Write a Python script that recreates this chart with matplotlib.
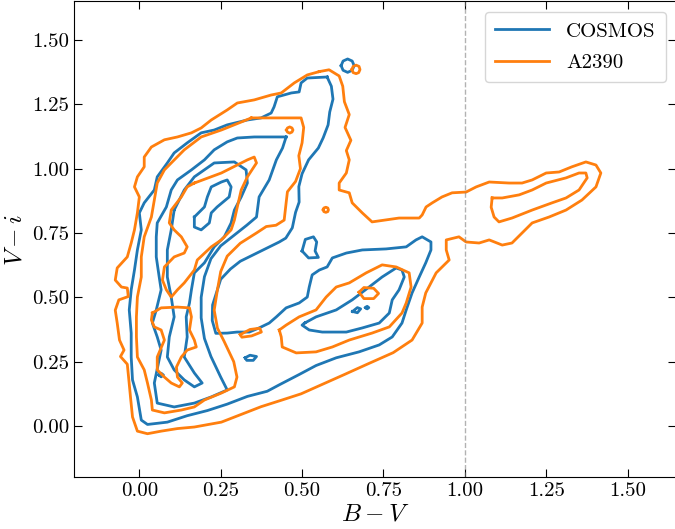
import numpy as np
import matplotlib
matplotlib.use("Agg")
import matplotlib.pyplot as plt
from matplotlib.ticker import FormatStrFormatter

plt.rcParams["font.family"] = "serif"
plt.rcParams["font.serif"] = ["cmr10", "DejaVu Serif"]
plt.rcParams["mathtext.fontset"] = "cm"
plt.rcParams["axes.formatter.use_mathtext"] = True

BLUE = "#1f77b4"
ORANGE = "#ff7f0e"

# contour lines, (B-V, V-i)
o_outer = [(0.553,1.377),(0.583,1.384),(0.614,1.36),(0.625,1.32),(0.63,1.26),(0.645,1.21),(0.632,1.16),
           (0.65,1.11),(0.636,1.07),(0.645,1.034),(0.636,0.983),(0.614,0.944),(0.614,0.917),(0.645,0.906),
           (0.654,0.867),(0.685,0.828),(0.715,0.793),(0.798,0.808),(0.86,0.808),(0.869,0.82),(0.881,0.851),
           (0.9,0.867),(0.93,0.89),(0.961,0.906),(1.004,0.909),(1.035,0.929),(1.075,0.948),(1.136,0.944),
           (1.176,0.944),(1.207,0.956),(1.25,0.983),(1.29,0.987),(1.329,1.007),(1.372,1.026),(1.403,1.014),
           (1.418,0.983),(1.403,0.929),(1.36,0.878),(1.311,0.839),(1.259,0.812),(1.207,0.789),(1.176,0.75),
           (1.145,0.711),(1.115,0.703),(1.075,0.723),(1.044,0.711),(1.004,0.715),(0.982,0.735),(0.943,0.723),
           (0.943,0.684),(0.952,0.645),(0.912,0.595),(0.88,0.517),(0.869,0.462),(0.869,0.40),(0.838,0.334),
           (0.78,0.285),(0.70,0.24),(0.63,0.20),(0.559,0.16),(0.497,0.125),(0.436,0.10),(0.374,0.075),
           (0.313,0.045),(0.252,0.015),(0.169,-0.004),(0.117,-0.01),(0.067,-0.02),(0.025,-0.03),
           (-0.006,-0.02),(-0.021,0.035),(-0.027,0.11),(-0.032,0.176),(-0.037,0.24),
           (-0.058,0.27),(-0.047,0.295),(-0.061,0.334),(-0.068,0.40),(-0.074,0.45),(-0.063,0.49),
           (-0.034,0.503),(-0.037,0.536),(-0.055,0.54),(-0.074,0.567),(-0.068,0.614),(-0.037,0.657),
           (-0.025,0.711),(-0.015,0.762),(-0.006,0.828),(0.0,0.89),(-0.015,0.929),(-0.006,0.968),
           (0.015,1.007),(0.015,1.045),(0.037,1.084),(0.077,1.112),(0.117,1.123),(0.16,1.139),
           (0.19,1.158),(0.221,1.189),(0.27,1.228),(0.301,1.255),(0.353,1.267),(0.405,1.286),
           (0.436,1.294),(0.476,1.333),(0.516,1.364),(0.553,1.377)]

o_mid = [(0.344,1.197),(0.42,1.197),(0.497,1.197),(0.505,1.16),(0.50,1.10),(0.49,1.05),(0.495,1.0),
         (0.48,0.95),(0.455,0.91),(0.451,0.867),(0.445,0.80),(0.42,0.78),(0.39,0.775),(0.36,0.75),
         (0.31,0.71),(0.27,0.66),(0.25,0.60),(0.24,0.53),(0.23,0.45),(0.24,0.38),(0.26,0.33),
         (0.29,0.25),(0.30,0.19),(0.292,0.152),(0.252,0.128),(0.2,0.101),(0.169,0.074),(0.129,0.062),
         (0.077,0.051),(0.04,0.062),(0.037,0.101),(0.025,0.167),(0.015,0.218),(-0.006,0.268),
         (-0.009,0.346),(-0.009,0.424),(-0.006,0.501),(0.006,0.579),(0.006,0.657),(0.015,0.735),
         (0.037,0.812),(0.046,0.878),(0.055,0.944),(0.077,0.995),(0.098,1.022),(0.138,1.073),
         (0.19,1.123),(0.252,1.15),(0.313,1.181),(0.344,1.197)]

o_inner_top = [(0.169,0.944),(0.252,0.983),(0.332,1.034),(0.353,1.045),(0.36,1.022),(0.332,0.968),
               (0.313,0.917),(0.301,0.851),(0.292,0.80),(0.282,0.762),(0.252,0.723),(0.221,0.696),
               (0.178,0.645),(0.169,0.606),(0.138,0.556),(0.117,0.529),(0.098,0.501),(0.083,0.529),
               (0.071,0.567),(0.077,0.618),(0.107,0.657),(0.138,0.672),(0.147,0.696),(0.129,0.735),
               (0.107,0.762),(0.092,0.789),(0.098,0.839),(0.129,0.89),(0.147,0.929),(0.169,0.944)]

o_inner_low = [(0.04,0.439),(0.067,0.459),(0.117,0.462),(0.154,0.459),(0.16,0.424),(0.154,0.373),
               (0.169,0.334),(0.175,0.307),(0.147,0.295),(0.129,0.268),(0.114,0.229),(0.117,0.19),
               (0.132,0.167),(0.123,0.152),(0.098,0.167),(0.077,0.19),(0.055,0.218),(0.055,0.268),
               (0.077,0.334),(0.067,0.373),(0.046,0.385),(0.037,0.412),(0.04,0.439)]

o_right_inner = [(1.084,0.886),(1.115,0.886),(1.167,0.898),(1.207,0.917),(1.25,0.944),(1.311,0.964),
                 (1.351,0.983),(1.372,0.983),(1.376,0.964),(1.351,0.917),(1.311,0.886),(1.268,0.867),
                 (1.207,0.839),(1.145,0.808),(1.105,0.793),(1.09,0.812),(1.081,0.85),(1.084,0.886)]

o_red_mid = [(0.43,0.373),(0.451,0.392),(0.491,0.424),(0.543,0.451),(0.574,0.501),(0.605,0.54),
             (0.645,0.556),(0.697,0.595),(0.746,0.626),(0.789,0.618),(0.829,0.595),(0.835,0.54),
             (0.82,0.478),(0.807,0.439),(0.768,0.385),(0.715,0.361),(0.645,0.334),(0.593,0.307),
             (0.543,0.288),(0.482,0.284),(0.439,0.307),(0.436,0.346),(0.43,0.373)]

b_outer = [(0.577,1.356),(0.59,1.32),(0.595,1.27),(0.585,1.22),(0.58,1.17),(0.565,1.12),(0.55,1.08),
           (0.52,1.034),(0.50,0.98),(0.49,0.93),(0.491,0.87),(0.48,0.83),(0.47,0.77),(0.45,0.73),
           (0.43,0.715),(0.39,0.69),(0.35,0.665),(0.31,0.64),(0.28,0.61),(0.25,0.57),(0.24,0.53),
           (0.225,0.47),(0.224,0.41),(0.235,0.36),(0.27,0.361),(0.30,0.365),(0.338,0.365),(0.368,0.381),
           (0.399,0.40),(0.421,0.424),(0.451,0.459),(0.491,0.478),(0.516,0.501),(0.522,0.54),
           (0.531,0.587),(0.553,0.606),(0.577,0.618),(0.593,0.653),(0.636,0.672),(0.685,0.684),
           (0.758,0.688),(0.82,0.696),(0.85,0.723),(0.869,0.735),(0.896,0.715),(0.896,0.684),
           (0.88,0.634),(0.86,0.579),(0.838,0.517),(0.82,0.451),(0.807,0.40),(0.777,0.346),
           (0.737,0.315),(0.675,0.288),(0.605,0.265),(0.543,0.235),(0.491,0.20),(0.43,0.16),
           (0.393,0.135),(0.332,0.115),(0.27,0.085),(0.209,0.06),(0.147,0.04),(0.086,0.015),
           (0.025,0.006),(0.006,0.023),(-0.006,0.113),(-0.021,0.179),(-0.025,0.268),(-0.025,0.361),
           (-0.031,0.451),(-0.025,0.529),(-0.015,0.606),(-0.006,0.684),(0.006,0.762),(0.0,0.828),
           (0.015,0.867),(0.046,0.917),(0.055,0.968),(0.086,1.022),(0.107,1.061),(0.147,1.10),
           (0.19,1.139),(0.23,1.15),(0.27,1.17),(0.332,1.189),(0.374,1.197),(0.405,1.216),
           (0.414,1.24),(0.424,1.279),(0.467,1.294),(0.491,1.298),(0.497,1.333),(0.516,1.352),
           (0.577,1.356)]

b_mid = [(0.451,1.123),(0.44,1.08),(0.421,1.034),(0.399,0.956),(0.368,0.89),(0.36,0.812),(0.33,0.78),
         (0.29,0.74),(0.25,0.70),(0.22,0.65),(0.20,0.58),(0.19,0.50),(0.19,0.42),(0.20,0.34),
         (0.22,0.27),(0.25,0.19),(0.27,0.14),(0.221,0.113),(0.169,0.089),(0.107,0.074),(0.055,0.089),
         (0.046,0.167),(0.067,0.295),(0.055,0.346),(0.04,0.40),(0.052,0.451),(0.067,0.529),
         (0.061,0.579),(0.052,0.657),(0.052,0.735),(0.055,0.789),(0.083,0.851),(0.098,0.917),
         (0.117,0.956),(0.16,0.995),(0.2,1.034),(0.23,1.073),(0.27,1.104),(0.301,1.119),
         (0.353,1.123),(0.451,1.123)]

b_inner = [(0.107,0.839),(0.138,0.917),(0.169,0.968),(0.23,1.022),(0.292,1.026),(0.328,0.995),
           (0.332,0.944),(0.313,0.89),(0.292,0.839),(0.282,0.789),(0.261,0.735),(0.23,0.696),
           (0.2,0.634),(0.169,0.595),(0.16,0.529),(0.154,0.478),(0.144,0.424),(0.147,0.346),
           (0.138,0.268),(0.169,0.206),(0.193,0.167),(0.169,0.152),(0.138,0.179),(0.107,0.218),
           (0.086,0.268),(0.092,0.346),(0.107,0.424),(0.098,0.501),(0.086,0.579),(0.086,0.684),
           (0.098,0.762),(0.107,0.839)]

b_core = [(0.169,0.812),(0.2,0.851),(0.209,0.89),(0.221,0.929),(0.252,0.948),(0.27,0.956),
          (0.282,0.929),(0.276,0.89),(0.239,0.851),(0.221,0.828),(0.215,0.789),(0.19,0.762),
          (0.169,0.773),(0.169,0.812)]

b_red_mid = [(0.508,0.40),(0.543,0.424),(0.605,0.451),(0.654,0.49),(0.706,0.54),(0.746,0.579),
             (0.789,0.614),(0.807,0.606),(0.814,0.579),(0.798,0.529),(0.777,0.49),(0.768,0.439),
             (0.737,0.40),(0.685,0.381),(0.636,0.365),(0.562,0.365),(0.522,0.373),(0.50,0.392),
             (0.508,0.40)]

o_small = [
    [(0.653,1.385),(0.657,1.397),(0.666,1.402),(0.675,1.397),(0.678,1.385),(0.674,1.373),
     (0.666,1.369),(0.657,1.373),(0.653,1.385)],
    [(0.565,0.84),(0.567,0.847),(0.573,0.85),(0.579,0.847),(0.581,0.84),(0.579,0.833),
     (0.573,0.83),(0.567,0.833),(0.565,0.84)],
    [(0.452,1.15),(0.455,1.158),(0.462,1.162),(0.469,1.158),(0.472,1.15),(0.469,1.142),
     (0.462,1.138),(0.455,1.142),(0.452,1.15)],
    [(0.675,0.52),(0.69,0.538),(0.72,0.535),(0.735,0.515),(0.72,0.495),(0.69,0.495),(0.675,0.52)],
    [(0.31,0.355),(0.34,0.375),(0.37,0.38),(0.375,0.365),(0.345,0.35),(0.315,0.345),(0.31,0.355)],
]
b_small = [
    [(0.62,1.40),(0.626,1.418),(0.64,1.426),(0.654,1.418),(0.66,1.40),(0.654,1.382),
     (0.64,1.374),(0.626,1.382),(0.62,1.40)],
    [(0.50,0.68),(0.51,0.725),(0.535,0.735),(0.545,0.715),(0.54,0.68),(0.55,0.655),(0.52,0.653),(0.50,0.68)],
    [(0.325,0.265),(0.34,0.275),(0.36,0.27),(0.35,0.255),(0.33,0.255),(0.325,0.265)],
    [(0.655,0.445),(0.67,0.46),(0.68,0.455),(0.67,0.44),(0.655,0.445)],
    [(0.695,0.46),(0.70,0.465),(0.705,0.46),(0.70,0.455),(0.695,0.46)],
    [(0.06,0.198),(0.067,0.205),(0.074,0.198),(0.067,0.191),(0.06,0.198)],
]

b_curves = [b_outer, b_mid, b_inner, b_core, b_red_mid] + b_small
o_curves = [o_outer, o_mid, o_inner_top, o_inner_low, o_right_inner, o_red_mid] + o_small

fig = plt.figure(figsize=(6.75, 5.29), dpi=100)
ax = fig.add_axes([0.110, 0.0974, 0.892, 0.9001])

for i, c in enumerate(b_curves):
    x, y = zip(*c)
    ax.plot(x, y, color=BLUE, lw=2, label="COSMOS" if i == 0 else None)
for i, c in enumerate(o_curves):
    x, y = zip(*c)
    ax.plot(x, y, color=ORANGE, lw=2, label="A2390" if i == 0 else None)

ax.axvline(1.0, color="gray", ls="--", lw=1, alpha=0.6)

ax.set_xlim(-0.2, 1.65)
ax.set_ylim(-0.2, 1.65)
ax.set_xticks([0, 0.25, 0.5, 0.75, 1.0, 1.25, 1.5])
ax.set_yticks([0, 0.25, 0.5, 0.75, 1.0, 1.25, 1.5])
ax.xaxis.set_major_formatter(FormatStrFormatter("%.2f"))
ax.yaxis.set_major_formatter(FormatStrFormatter("%.2f"))
ax.tick_params(direction="in", top=True, right=True, labelsize=15, length=6)
ax.set_xlabel("$B-V$", fontsize=18, labelpad=2)
ax.set_ylabel("$V-i$", fontsize=18, labelpad=4)
ax.legend(loc="upper right", fontsize=15, handlelength=2.6, labelspacing=0.6, borderpad=0.5)

fig.savefig("out.png", dpi=100)
